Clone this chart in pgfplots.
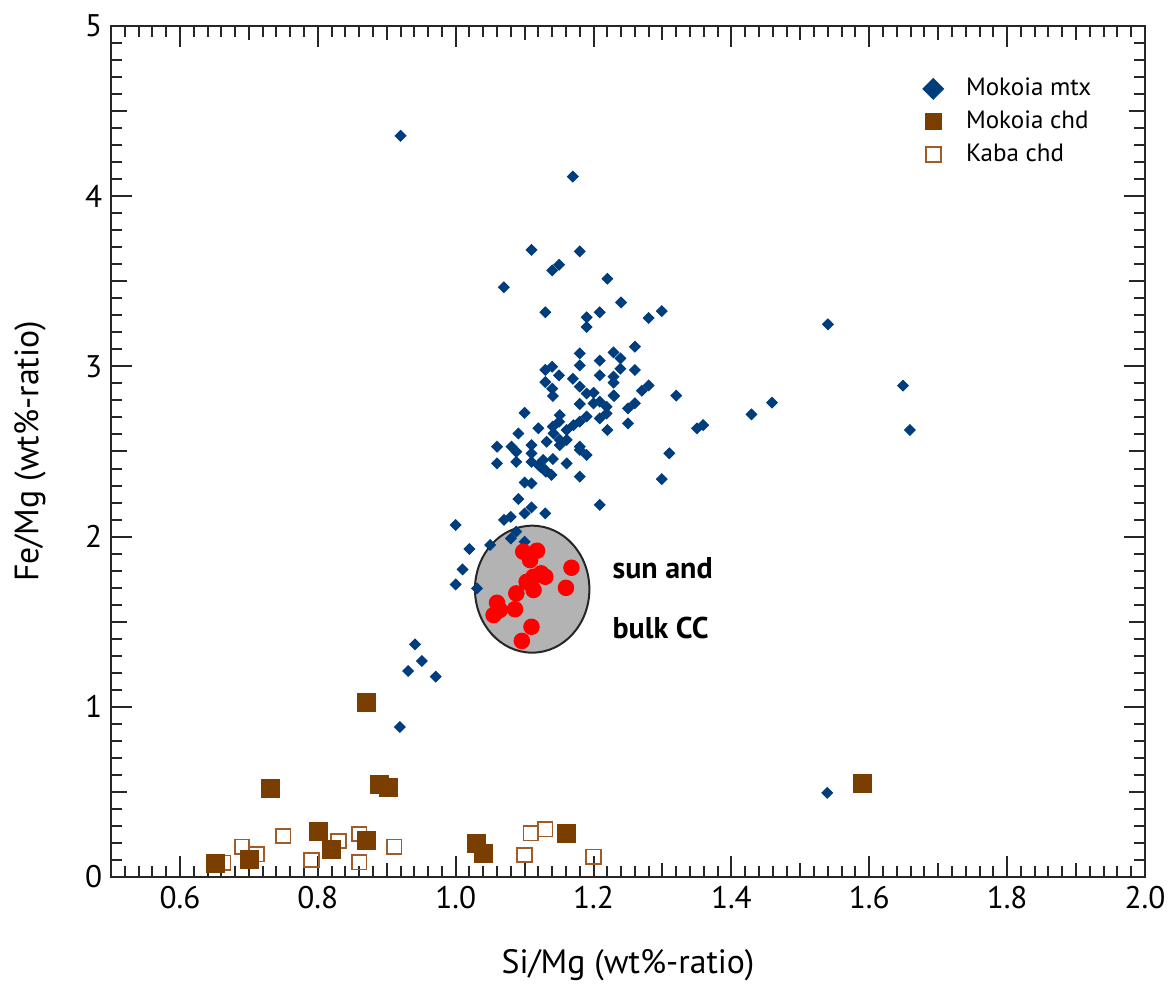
\documentclass[border=0pt]{standalone}
\usepackage{pgfplots}
\pgfplotsset{compat=1.18}
\usepackage{fontspec}
\setmainfont{PT Sans}
\definecolor{mtx}{RGB}{0,61,125}
\definecolor{chd}{RGB}{122,62,0}
\definecolor{kaba}{RGB}{160,92,40}
\definecolor{ellfill}{RGB}{179,179,179}

\pgfplotstableread{
x y
0.920 4.355
1.170 4.115
1.110 3.684
1.180 3.676
1.140 3.564
1.150 3.597
1.070 3.465
1.220 3.515
1.130 3.318
1.190 3.288
1.190 3.231
1.209 3.318
1.240 3.376
1.280 3.284
1.299 3.325
1.260 3.116
1.180 3.076
1.229 3.082
1.239 3.047
1.209 3.034
1.180 3.006
1.209 2.947
1.229 2.940
1.229 2.904
1.239 2.986
1.260 2.979
1.280 2.888
1.270 2.857
1.320 2.828
1.130 2.979
1.140 2.998
1.150 2.947
1.130 2.908
1.140 2.869
1.170 2.927
1.180 2.881
1.190 2.841
1.200 2.845
1.229 2.829
1.141 2.826
1.540 3.247
1.350 2.636
1.359 2.655
1.429 2.718
1.459 2.787
1.649 2.887
1.659 2.626
1.310 2.489
1.299 2.338
1.230 2.826
1.209 2.793
1.219 2.763
1.180 2.779
1.200 2.783
1.219 2.723
1.209 2.694
1.190 2.705
1.180 2.675
1.171 2.655
1.161 2.626
1.151 2.714
1.150 2.675
1.141 2.646
1.142 2.606
1.151 2.568
1.161 2.568
1.151 2.538
1.132 2.557
1.120 2.636
1.100 2.727
1.091 2.606
1.110 2.538
1.081 2.528
1.060 2.528
1.060 2.430
1.088 2.498
1.088 2.439
1.110 2.489
1.110 2.439
1.120 2.420
1.127 2.450
1.141 2.456
1.130 2.391
1.139 2.362
1.123 2.410
1.131 2.381
1.161 2.430
1.180 2.509
1.180 2.528
1.190 2.479
1.180 2.352
1.220 2.626
1.250 2.665
1.250 2.753
1.260 2.783
1.209 2.186
1.100 2.318
1.110 2.312
1.091 2.221
1.110 2.171
1.100 2.136
1.130 2.136
1.080 2.116
1.070 2.098
1.000 2.068
1.088 2.029
1.080 1.989
1.100 1.970
1.050 1.951
1.020 1.927
1.010 1.807
1.000 1.719
1.031 1.696
0.941 1.367
0.951 1.269
0.931 1.210
0.971 1.177
0.919 0.881
1.539 0.494
}\mtxdata

\pgfplotstableread{
x y
0.651 0.080
0.701 0.100
0.801 0.266
0.820 0.163
0.870 0.212
0.731 0.517
0.871 1.028
0.890 0.541
0.902 0.523
1.030 0.198
1.040 0.139
1.161 0.257
1.590 0.552
}\chddata

\pgfplotstableread{
x y
0.663 0.084
0.690 0.178
0.711 0.133
0.750 0.241
0.791 0.100
0.830 0.212
0.860 0.253
0.860 0.086
0.911 0.178
1.109 0.257
1.130 0.280
1.100 0.129
1.200 0.119
}\kabadata

\pgfplotstableread{
x y
1.098 1.911
1.118 1.917
1.108 1.862
1.168 1.817
1.124 1.784
1.113 1.764
1.103 1.734
1.130 1.764
1.113 1.686
1.160 1.699
1.088 1.666
1.060 1.611
1.086 1.573
1.064 1.569
1.055 1.539
1.110 1.470
1.096 1.387
}\bulkdata

\begin{document}
\begin{tikzpicture}
\begin{axis}[
  scale only axis,
  width=413.6pt, height=340.4pt,
  xmin=0.5, xmax=2.0, ymin=0, ymax=5,
  xtick={0.6,0.8,1.0,1.2,1.4,1.6,1.8,2.0},
  minor xtick={0.52,0.54,0.56,0.58,0.62,0.64,0.66,0.68,0.72,0.74,0.76,0.78,0.82,0.84,0.86,0.88,0.92,0.94,0.96,0.98,1.02,1.04,1.06,1.08,1.12,1.14,1.16,1.18,1.22,1.24,1.26,1.28,1.32,1.34,1.36,1.38,1.42,1.44,1.46,1.48,1.52,1.54,1.56,1.58,1.62,1.64,1.66,1.68,1.72,1.74,1.76,1.78,1.82,1.84,1.86,1.88,1.92,1.94,1.96,1.98},
  extra x ticks={0.5,0.7,0.9,1.1,1.3,1.5,1.7,1.9},
  extra x tick labels={},
  extra x tick style={major tick length=5.6pt},
  ytick={0,1,2,3,4,5},
  minor ytick={0.1,0.2,0.3,0.4,0.6,0.7,0.8,0.9,1.1,1.2,1.3,1.4,1.6,1.7,1.8,1.9,2.1,2.2,2.3,2.4,2.6,2.7,2.8,2.9,3.1,3.2,3.3,3.4,3.6,3.7,3.8,3.9,4.1,4.2,4.3,4.4,4.6,4.7,4.8,4.9},
  extra y ticks={0.5,1.5,2.5,3.5,4.5},
  extra y tick labels={},
  extra y tick style={major tick length=6.4pt},
  tick align=inside,
  major tick length=8.4pt,
  minor tick length=4.4pt,
  tick style={black!85, line width=0.8pt},
  axis line style={black!85, line width=0.8pt},
  xticklabel style={/pgf/number format/.cd, fixed, fixed zerofill, precision=1},
  /pgf/number format/assume math mode=true,
  ticklabel style={font=\fontsize{12.5}{14}\selectfont, text=black},
  yticklabel style={/pgf/number format/.cd, fixed, precision=0},
  xlabel={Si/Mg (wt\%-ratio)},
  ylabel={Fe/Mg (wt\%-ratio)},
  label style={font=\fontsize{13.5}{16}\selectfont},
  xlabel style={at={(axis description cs:0.5,-0.1034)}, anchor=center},
  ylabel style={at={(axis description cs:-0.0783,0.5)}, anchor=center},
  legend style={draw=none, fill=none, font=\fontsize{10}{12}\selectfont,
    at={(rel axis cs:0.7776,0.951)}, anchor=north west, row sep=0.6pt,
    /tikz/every odd column/.append style={column sep=7pt}},
  legend cell align=left,
  clip=false,
]
\coordinate (bl) at (rel axis cs:0,0);
\coordinate (tr) at (rel axis cs:1,1);

\addlegendimage{only marks, mark=square*, mark size=2.9pt, mark options={rotate=45, fill=mtx, draw=mtx}}
\addlegendentry{Mokoia mtx}
\addlegendimage{only marks, mark=square*, mark size=3.2pt, mark options={fill=chd, draw=chd}}
\addlegendentry{Mokoia chd}
\addlegendimage{only marks, mark=square, mark size=3.0pt, mark options={draw=kaba, fill=white, line width=0.7pt}}
\addlegendentry{Kaba chd}

\draw[fill=ellfill, draw=black!85, line width=0.8pt] (axis cs:1.111,1.691) ellipse [x radius=0.083, y radius=0.373];

\addplot[forget plot, only marks, mark=square*, mark size=1.5pt, mark options={rotate=45, fill=mtx, draw=mtx}] table[x=x,y=y] {\mtxdata};
\addplot[forget plot, only marks, mark=*, mark size=3.1pt, mark options={fill=red, draw=red}] table[x=x,y=y] {\bulkdata};
\addplot[forget plot, only marks, mark=square, mark size=2.9pt, mark options={draw=kaba, fill=white, line width=0.7pt}] table[x=x,y=y] {\kabadata};
\addplot[forget plot, only marks, mark=square*, mark size=3.6pt, mark options={fill=chd, draw=chd}] table[x=x,y=y] {\chddata};

\node[anchor=west, align=left, inner sep=0pt, font=\bfseries\fontsize{12}{24}\selectfont] at (axis cs:1.227,1.639) {sun and\\bulk CC};
\end{axis}
\pgfresetboundingbox
\path ([shift={(-44.4pt,-43.2pt)}]bl) rectangle ([shift={(10.8pt,10.4pt)}]tr);
\end{tikzpicture}
\end{document}
